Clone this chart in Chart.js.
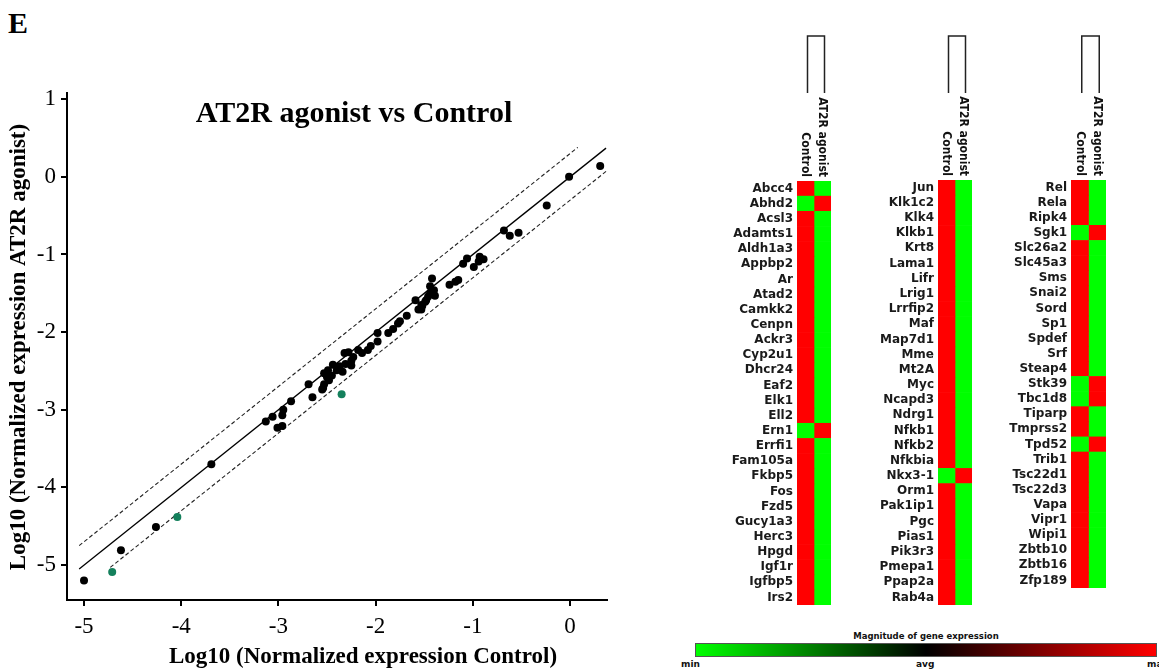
<!DOCTYPE html>
<html>
<head>
<meta charset="utf-8">
<title>AT2R agonist vs Control</title>
<script src="https://cdn.jsdelivr.net/npm/chart.js@4.4.1/dist/chart.umd.min.js"></script>
<style>
  html, body { margin: 0; padding: 0; background: #fff; }
  body { width: 1159px; height: 671px; position: relative; overflow: hidden; font-family: "DejaVu Sans", sans-serif; }
  canvas { position: absolute; top: 0; }
  #panel { position: absolute; left: 8px; top: 6px; font: bold 30px "Liberation Serif", serif; color: #000; }
  .scale-text { position: absolute; font: bold 8.5px "DejaVu Sans", sans-serif; color: #111; white-space: nowrap; }
  #scaleBar { position: absolute; left: 695px; top: 643px; width: 460px; height: 12px; border: 1px solid #555;
    background: linear-gradient(to right, #00ff00, #000 50%, #ff0000); }
</style>
</head>
<body>
<div id="panel">E</div>
<canvas id="scatter" width="640" height="671" style="left:0"></canvas>
<canvas id="heat1" width="150" height="620" style="left:690px"></canvas>
<canvas id="heat2" width="150" height="620" style="left:835px"></canvas>
<canvas id="heat3" width="150" height="620" style="left:970px"></canvas>

<div class="scale-text" style="left:695px; width:462px; top:631px; text-align:center">Magnitude of gene expression</div>
<div id="scaleBar"></div>
<div class="scale-text" style="left:681px; top:659px; font-size:9px">min</div>
<div class="scale-text" style="left:916px; top:659px; font-size:9px">avg</div>
<div class="scale-text" style="left:1147px; top:659px; font-size:9px">max</div>

<script>
// scatter: log10 normalized expression, Control (x) vs AT2R agonist (y)
const ctrlBlack = [-5.0, -4.62, -4.26, -3.69, -3.13, -3.06, -3.01, -2.96, -2.96, -2.95, -2.87, -2.69, -2.65, -2.55, -2.54,
  -2.53, -2.49, -2.53, -2.48, -2.45, -2.50, -2.40, -2.44, -2.37, -2.34, -2.31, -2.32, -2.28, -2.25, -2.23, -2.25, -2.18,
  -2.14, -2.08, -2.05, -1.98, -1.98, -1.87, -1.82, -1.77, -1.75, -1.68, -1.59, -1.56, -1.52, -1.53, -1.53, -1.49, -1.48,
  -1.46, -1.44, -1.39, -1.40, -1.44, -1.42, -1.24, -1.18, -1.15, -1.10, -1.06, -0.99, -0.94, -0.93, -0.89, -0.68, -0.62,
  -0.53, -0.24, -0.01, 0.31];
const agoBlack = [-5.2, -4.81, -4.51, -3.70, -3.15, -3.09, -3.23, -3.21, -3.07, -3.00, -2.89, -2.67, -2.84, -2.74, -2.72,
  -2.53, -2.49, -2.67, -2.62, -2.56, -2.58, -2.49, -2.42, -2.44, -2.51, -2.41, -2.27, -2.26, -2.37, -2.32, -2.43, -2.23,
  -2.27, -2.23, -2.18, -2.12, -2.01, -2.01, -1.96, -1.89, -1.86, -1.79, -1.59, -1.71, -1.66, -1.71, -1.65, -1.61, -1.59,
  -1.54, -1.50, -1.53, -1.46, -1.41, -1.31, -1.39, -1.35, -1.33, -1.12, -1.05, -1.16, -1.09, -1.03, -1.06, -0.69, -0.76,
  -0.72, -0.37, 0.00, 0.14];
const ctrlGreen = [-4.71, -4.04, -2.35];
const agoGreen = [-5.09, -4.38, -2.80];

// reference lines (end points)
const unityX = [-5.05, 0.37], unityY = [-5.05, 0.37];
const upperX = [-5.05, 0.08], upperY = [-4.75, 0.38];
const lowerX = [-4.73, 0.38], lowerY = [-5.03, 0.08];

const xTicks = [-5, -4, -3, -2, -1, 0];
const yTicks = [-5, -4, -3, -2, -1, 0, 1];

const chartTitle = "AT2R agonist vs Control";
const xTitle = "Log10 (Normalized expression Control)";
const yTitle = "Log10 (Normalized expression AT2R agonist)";

// heatmap: 1 = max (red), -1 = min (green)
const columnNames = ["Control", "AT2R agonist"];
const genes1 = ["Abcc4", "Abhd2", "Acsl3", "Adamts1", "Aldh1a3", "Appbp2", "Ar", "Atad2", "Camkk2", "Cenpn", "Ackr3",
  "Cyp2u1", "Dhcr24", "Eaf2", "Elk1", "Ell2", "Ern1", "Errfi1", "Fam105a", "Fkbp5", "Fos", "Fzd5", "Gucy1a3", "Herc3",
  "Hpgd", "Igf1r", "Igfbp5", "Irs2"];
const control1 = [1, -1, 1, 1, 1, 1, 1, 1, 1, 1, 1, 1, 1, 1, 1, 1, -1, 1, 1, 1, 1, 1, 1, 1, 1, 1, 1, 1];
const agonist1 = [-1, 1, -1, -1, -1, -1, -1, -1, -1, -1, -1, -1, -1, -1, -1, -1, 1, -1, -1, -1, -1, -1, -1, -1, -1, -1, -1, -1];
const genes2 = ["Jun", "Klk1c2", "Klk4", "Klkb1", "Krt8", "Lama1", "Lifr", "Lrig1", "Lrrfip2", "Maf", "Map7d1", "Mme",
  "Mt2A", "Myc", "Ncapd3", "Ndrg1", "Nfkb1", "Nfkb2", "Nfkbia", "Nkx3-1", "Orm1", "Pak1ip1", "Pgc", "Pias1", "Pik3r3",
  "Pmepa1", "Ppap2a", "Rab4a"];
const control2 = [1, 1, 1, 1, 1, 1, 1, 1, 1, 1, 1, 1, 1, 1, 1, 1, 1, 1, 1, -1, 1, 1, 1, 1, 1, 1, 1, 1];
const agonist2 = [-1, -1, -1, -1, -1, -1, -1, -1, -1, -1, -1, -1, -1, -1, -1, -1, -1, -1, -1, 1, -1, -1, -1, -1, -1, -1, -1, -1];
const genes3 = ["Rel", "Rela", "Ripk4", "Sgk1", "Slc26a2", "Slc45a3", "Sms", "Snai2", "Sord", "Sp1", "Spdef", "Srf",
  "Steap4", "Stk39", "Tbc1d8", "Tiparp", "Tmprss2", "Tpd52", "Trib1", "Tsc22d1", "Tsc22d3", "Vapa", "Vipr1", "Wipi1",
  "Zbtb10", "Zbtb16", "Zfp189"];
const control3 = [1, 1, 1, -1, 1, 1, 1, 1, 1, 1, 1, 1, 1, -1, -1, 1, 1, -1, 1, 1, 1, 1, 1, 1, 1, 1, 1];
const agonist3 = [-1, -1, -1, 1, -1, -1, -1, -1, -1, -1, -1, -1, -1, 1, 1, -1, -1, 1, -1, -1, -1, -1, -1, -1, -1, -1, -1];

const levelColor = v => v > 0 ? "#ff0000" : "#00ff00";
const pts = (xs, ys) => xs.map((x, i) => ({ x, y: ys[i] }));

const scatterText = {
  id: "scatterText",
  afterDraw(chart) {
    const ctx = chart.ctx;
    ctx.save();
    ctx.fillStyle = "#000";
    ctx.textAlign = "center";
    ctx.font = 'bold 30px "Liberation Serif"';
    ctx.fillText(chartTitle, 354, 122);
    ctx.font = 'bold 23px "Liberation Serif"';
    ctx.textBaseline = "middle";
    ctx.fillText(xTitle, 363, 657);
    ctx.translate(19, 347);
    ctx.rotate(-Math.PI / 2);
    ctx.fillText(yTitle, 0, 0);
    ctx.restore();
  }
};

const axisStyle = {
  grid: { drawOnChartArea: false, tickLength: 6, color: "#000", lineWidth: 2 },
  border: { color: "#000", width: 2 }
};
const tickFont = { family: "Liberation Serif", size: 23 };

new Chart(document.getElementById("scatter"), {
  type: "scatter",
  data: {
    datasets: [
      { data: pts(ctrlBlack, agoBlack), backgroundColor: "#000", pointRadius: 4, pointBorderWidth: 0, order: 0 },
      { data: pts(ctrlGreen, agoGreen), backgroundColor: "#14805c", pointRadius: 4, pointBorderWidth: 0, order: 0 },
      { data: pts(unityX, unityY), showLine: true, pointRadius: 0, borderColor: "#000", borderWidth: 1.3, order: 1 },
      { data: pts(upperX, upperY), showLine: true, pointRadius: 0, borderColor: "#222", borderWidth: 1.1, borderDash: [4, 2.5], order: 1 },
      { data: pts(lowerX, lowerY), showLine: true, pointRadius: 0, borderColor: "#222", borderWidth: 1.1, borderDash: [4, 2.5], order: 1 }
    ]
  },
  options: {
    responsive: false,
    animation: false,
    layout: { padding: { top: 93, right: 33, left: 0, bottom: 0 } },
    plugins: { legend: { display: false }, tooltip: { enabled: false } },
    scales: {
      x: {
        type: "linear", min: -5.175, max: 0.38,
        afterBuildTicks: s => { s.ticks = xTicks.map(value => ({ value })); },
        ticks: { autoSkip: false, color: "#000", padding: 7, maxRotation: 0, font: tickFont, callback: v => String(v) },
        ...axisStyle,
        afterFit: s => { s.height = 71; s.paddingLeft = 0; s.paddingRight = 0; }
      },
      y: {
        type: "linear", min: -5.45, max: 1.08,
        afterBuildTicks: s => { s.ticks = yTicks.map(value => ({ value })); },
        ticks: { autoSkip: false, color: "#000", padding: 5, font: tickFont, callback: v => String(v) },
        ...axisStyle,
        afterFit: s => { s.width = 67; s.paddingTop = 0; s.paddingBottom = 0; }
      }
    }
  },
  plugins: [scatterText]
});

const heatHeader = {
  id: "heatHeader",
  afterDraw(chart) {
    const { ctx, chartArea, scales: { x } } = chart;
    const c1 = x.getPixelForValue(0.5), c2 = x.getPixelForValue(1.5);
    ctx.save();
    ctx.strokeStyle = "#222";
    ctx.lineWidth = 1.5;
    ctx.beginPath();
    ctx.moveTo(c1 + 2, 93);
    ctx.lineTo(c1 + 2, 36);
    ctx.lineTo(c2 + 2, 36);
    ctx.lineTo(c2 + 2, 93);
    ctx.stroke();
    ctx.font = 'bold 12px "DejaVu Sans Condensed"';
    ctx.fillStyle = "#111";
    ctx.textAlign = "right";
    ctx.textBaseline = "middle";
    columnNames.forEach((name, i) => {
      ctx.save();
      ctx.translate(x.getPixelForValue(i + 0.5), chartArea.top - 4);
      ctx.rotate(Math.PI / 2);
      ctx.fillText(name, 0, 0);
      ctx.restore();
    });
    ctx.restore();
  }
};

function makeHeatmap(id, genes, control, agonist, axisWidth, pad) {
  return new Chart(document.getElementById(id), {
    type: "bar",
    data: {
      labels: genes,
      datasets: [
        { label: columnNames[0], data: genes.map(() => [0, 1]), backgroundColor: control.map(levelColor) },
        { label: columnNames[1], data: genes.map(() => [1, 2]), backgroundColor: agonist.map(levelColor) }
      ]
    },
    options: {
      indexAxis: "y",
      responsive: false,
      animation: false,
      layout: { padding: pad },
      datasets: { bar: { barPercentage: 1, categoryPercentage: 1, borderWidth: 0, grouped: false } },
      plugins: { legend: { display: false }, tooltip: { enabled: false } },
      scales: {
        x: { display: false, min: 0, max: 2 },
        y: {
          grid: { display: false, drawTicks: false },
          border: { display: false },
          ticks: { color: "#1a1a1a", padding: 4, autoSkip: false, font: { family: "DejaVu Sans", weight: "bold", size: 12 } },
          afterFit: s => { s.width = axisWidth; s.paddingTop = 0; s.paddingBottom = 0; }
        }
      }
    },
    plugins: [heatHeader]
  });
}

makeHeatmap("heat1", genes1, control1, agonist1, 107, { top: 181, bottom: 15, left: 0, right: 9 });
makeHeatmap("heat2", genes2, control2, agonist2, 103, { top: 180, bottom: 15, left: 0, right: 13 });
makeHeatmap("heat3", genes3, control3, agonist3, 101, { top: 180, bottom: 32, left: 0, right: 14 });
</script>
</body>
</html>
